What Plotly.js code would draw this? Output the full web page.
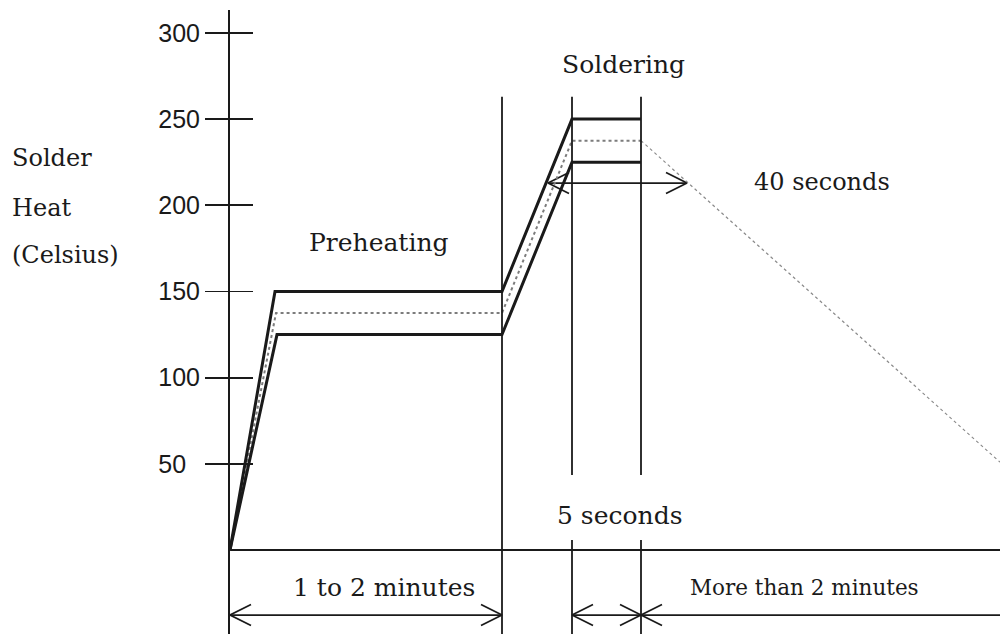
<!DOCTYPE html>
<html><head><meta charset="utf-8">
<script src="https://cdn.plot.ly/plotly-3.0.1.min.js"></script>
<style>html,body{margin:0;padding:0;background:#fff}#chart{width:1000px;height:634px}</style>
</head><body><div id="chart"></div>
<script>
// Schematic soldering profile: time axis in arbitrary schematic units, temperature in Celsius
const upperTime = [0, 45, 272, 342, 411];
const upperTemp = [0, 150, 150, 250, 250];
const lowerTime = [0, 47, 272, 342, 411];
const lowerTemp = [0, 125, 125, 225, 225];
const midTime = [0, 46, 272, 342, 411];
const midTemp = [0, 137.5, 137.5, 237.5, 237.5];
const coolTime = [411, 770];
const coolTemp = [237.5, 51];

const tempTicks = [50, 100, 150, 200, 250, 300];
const tempTickText = ['50\u2007', '100', '150', '200', '250', '300'];

// phase boundary guide lines
const guideTime = [272, 342, 411];
const guideTop = [263, 263, 263];
const guideGapTop = [null, 43.5, 43.5];
const guideGapBottom = [null, 5.8, 5.8];

// dimension arrows
const dimFrom = [0, 342, 411, 318];
const dimTo = [272, 411, 770, 457];
const dimLevel = [-37.7, -37.7, -37.7, 212.9];
const dimHeadLeft = [true, true, true, true];
const dimHeadRight = [true, true, false, true];

// text labels
const labelText = ['Preheating', 'Soldering', '40 seconds', '5 seconds', '1 to 2 minutes', 'More than 2 minutes'];
const labelTime = [149, 393, 592, 389, 154, 574];
const labelTemp = [178.7, 281.4, 213.5, 20.3, -22.0, -21.5];
const labelSize = [25, 25, 24, 25, 25, 21.5];
const yTitleLines = ['Solder', 'Heat', '(Celsius)'];
const yTitleTemp = [227.4, 198.4, 171.1];

const Y_RANGE = [-48.7, 313.3];
const X_RANGE = [0, 770];
const INK = '#1a1a1a';
const SERIF = 'DejaVu Serif, Liberation Serif, serif';

// arrowhead geometry (style): length in x units (1 unit = 1px), half width in temp units
const HEAD_LEN = 21;
const HEAD_HALF = 10.5 * (Y_RANGE[1] - Y_RANGE[0]) / 624;

const traces = [];
// guide lines
const gx = [], gy = [];
guideTime.forEach((t, i) => {
  if (guideGapTop[i] === null) {
    gx.push(t, t, null); gy.push(guideTop[i], Y_RANGE[0], null);
  } else {
    gx.push(t, t, null, t, t, null);
    gy.push(guideTop[i], guideGapTop[i], null, guideGapBottom[i], Y_RANGE[0], null);
  }
});
traces.push({x: gx, y: gy, mode: 'lines', line: {color: INK, width: 1.8}, yaxis: 'y2', hoverinfo: 'skip'});

// dimension arrows
const ax = [], ay = [];
dimFrom.forEach((a, i) => {
  const b = dimTo[i], y = dimLevel[i];
  ax.push(a, b, null);
  ay.push(y, y, null);
  if (dimHeadLeft[i]) { ax.push(a + HEAD_LEN, a, a + HEAD_LEN, null); ay.push(y + HEAD_HALF, y, y - HEAD_HALF, null); }
  if (dimHeadRight[i]) { ax.push(b - HEAD_LEN, b, b - HEAD_LEN, null); ay.push(y + HEAD_HALF, y, y - HEAD_HALF, null); }
});
traces.push({x: ax, y: ay, mode: 'lines', line: {color: INK, width: 1.7}, hoverinfo: 'skip'});

// profile
traces.push({x: coolTime, y: coolTemp, mode: 'lines', line: {color: '#8a8a8a', width: 1.2, dash: 'dot'}, hoverinfo: 'skip'});
traces.push({x: midTime, y: midTemp, mode: 'lines', line: {color: '#7c7c7c', width: 2, dash: 'dot'}, hoverinfo: 'skip'});
traces.push({x: upperTime, y: upperTemp, mode: 'lines', line: {color: INK, width: 3}, hoverinfo: 'skip'});
traces.push({x: lowerTime, y: lowerTemp, mode: 'lines', line: {color: INK, width: 3}, hoverinfo: 'skip'});

const annotations = labelText.map((t, i) => ({
  x: labelTime[i], y: labelTemp[i], xref: 'x', yref: 'y', text: t, showarrow: false,
  xanchor: 'center', yanchor: 'middle', font: {family: SERIF, size: labelSize[i], color: INK}
}));
yTitleLines.forEach((t, i) => annotations.push({
  x: -0.2857, y: yTitleTemp[i], xref: 'paper', yref: 'y', text: t, showarrow: false,
  xanchor: 'left', yanchor: 'middle', font: {family: SERIF, size: 24, color: INK}
}));

const layout = {
  width: 1000, height: 634,
  margin: {l: 230, r: 0, t: 10, b: 0},
  paper_bgcolor: '#fff', plot_bgcolor: '#fff',
  showlegend: false,
  xaxis: {range: X_RANGE, visible: false, fixedrange: true},
  yaxis: {
    range: Y_RANGE, showgrid: false, showline: true, linecolor: INK, linewidth: 2,
    ticks: 'outside', ticklen: 23, tickwidth: 1.8, tickcolor: INK,
    tickvals: tempTicks, ticktext: tempTickText,
    tickfont: {family: 'Liberation Sans Narrow, Liberation Sans, sans-serif', size: 25, color: INK},
    zeroline: true, zerolinecolor: INK, zerolinewidth: 1.8, fixedrange: true
  },
  yaxis2: {
    range: Y_RANGE, overlaying: 'y', side: 'left', showgrid: false, showline: false, zeroline: false,
    ticks: 'inside', ticklen: 23, tickwidth: 1.8, tickcolor: INK, tickvals: tempTicks,
    showticklabels: false, fixedrange: true
  },
  annotations: annotations
};

Plotly.newPlot('chart', traces, layout, {staticPlot: true, displayModeBar: false});
</script></body></html>
